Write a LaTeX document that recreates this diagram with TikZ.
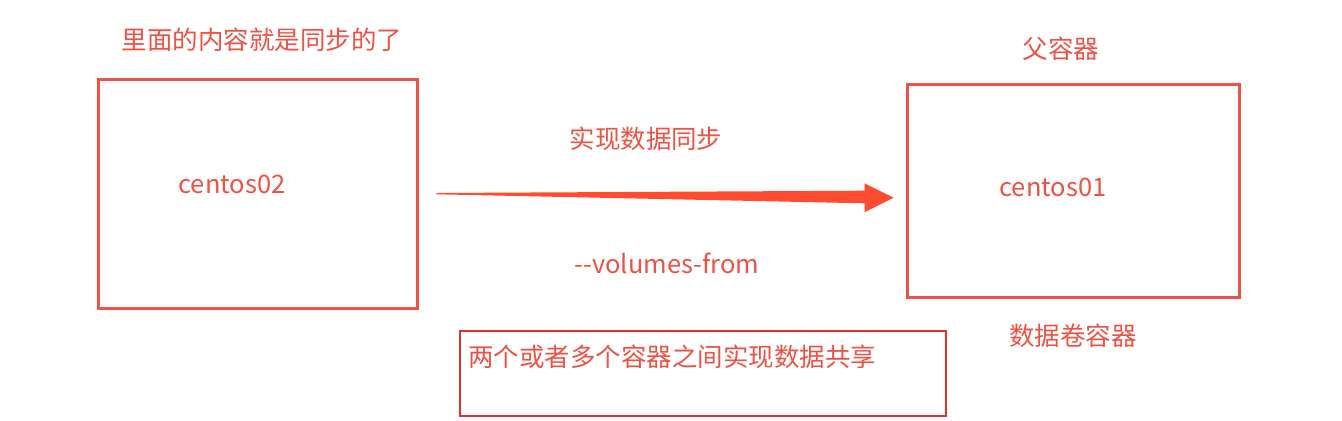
\documentclass[tikz,border=0pt]{standalone}
\usepackage{fontspec}
\setmainfont{Noto Sans CJK SC}
\usepackage{xcolor}
\usepackage{tikz}
\usetikzlibrary{calc}
\definecolor{figred}{RGB}{236,84,70}
\definecolor{figtxt}{RGB}{238,82,68}
\definecolor{figarrow}{RGB}{255,76,48}
\definecolor{figdark}{RGB}{222,50,42}
\tikzset{
  box/.style  ={draw=figred, line width=0.06cm, inner sep=0pt},
  nbox/.style ={draw=figdark, line width=0.04cm, inner sep=0pt},
  lab/.style  ={text=figtxt, font=\fontsize{14.5}{17}\selectfont, inner sep=0pt},
}

\begin{document}
\begin{tikzpicture}[x=0.02cm,y=-0.02cm]
  \useasboundingbox[fill=white] (0,0) rectangle (1342,420);
  % containers
  \node[box, minimum width=6.4cm, minimum height=4.6cm] (c02) at (258,194) {};
  \node[box, minimum width=6.66cm, minimum height=4.28cm] (c01) at (1073.5,191) {};
  \node[lab] (c02t) at (232,184) {centos02};
  \node[lab] (c01t) at (1053,187) {centos01};
  % captions
  \node[lab] (inner) at (262,40) {里面的内容就是同步的了};
  \node[lab] (parent) at (1061,49) {父容器};
  \node[lab] (vol) at (1073,336) {数据卷容器};
  \node[lab] (sync) at (646,139) {实现数据同步};
  \node[lab] (opt) at (667,263) {-{}-volumes-from};
  % tapered arrow
  \coordinate (tail) at ($(c02.east)+(17,-1)$);
  \coordinate (tip) at ($(c01.west)+(-12,6.7)$);
  \fill[figarrow] (tail) -- ($(tip)+(-29,-7)$) -- ($(tip)+(-29,-14.4)$) -- (tip)
    -- ($(tip)+(-29,14.6)$) -- ($(tip)+(-29,5.6)$) -- ($(tail)+(0,1.3)$) -- cycle;
  % note
  \node[nbox, minimum width=9.72cm, minimum height=1.7cm] (note) at (703,373.5) {};
  \node[lab, anchor=west] (notet) at (468,357) {两个或者多个容器之间实现数据共享};
\end{tikzpicture}
\end{document}
